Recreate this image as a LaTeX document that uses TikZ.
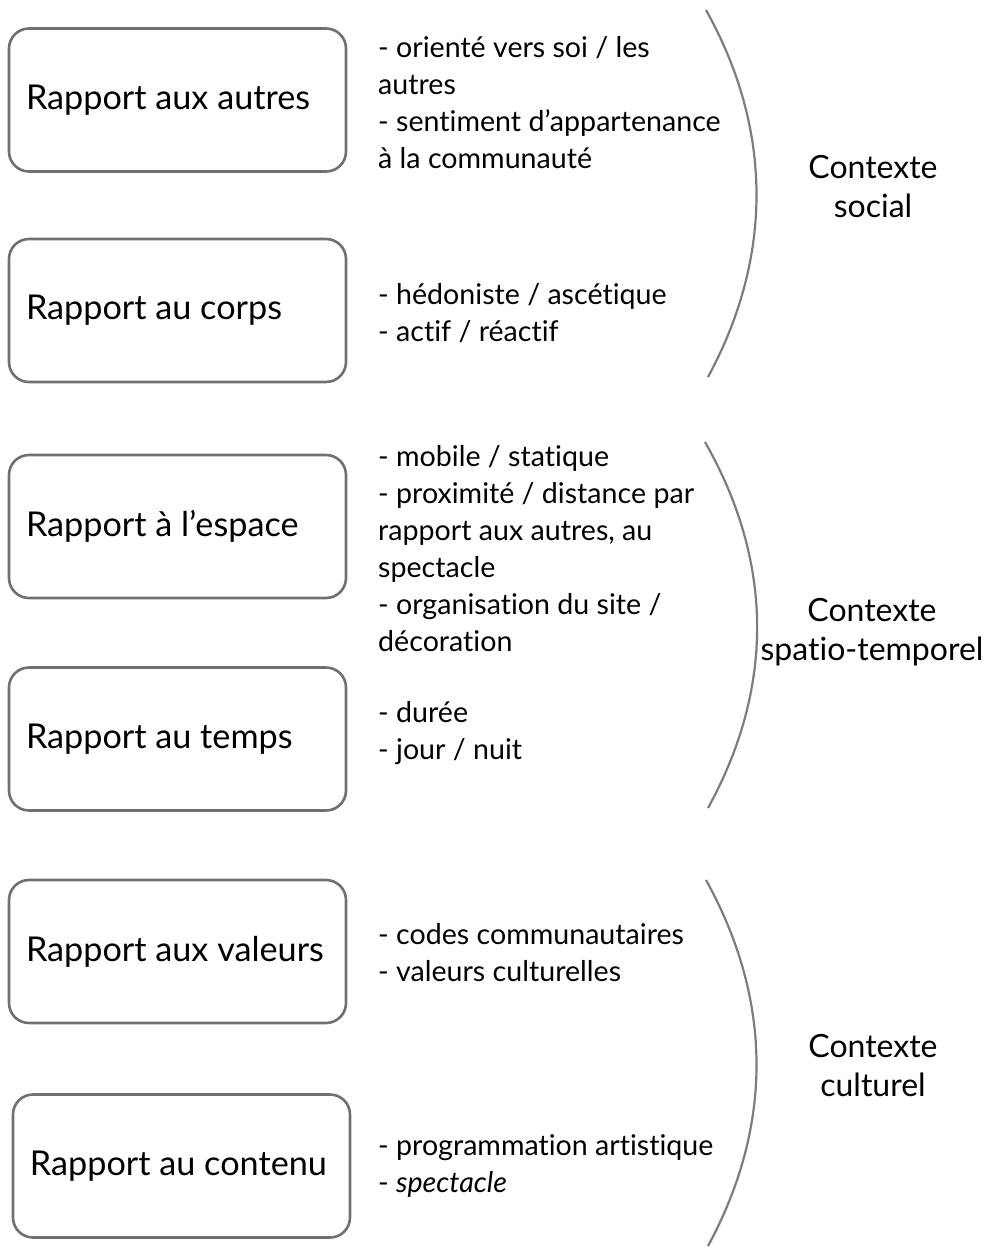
\documentclass[tikz,border=0pt]{standalone}
\usepackage{fontspec}
\setmainfont{Lato}[Ligatures=NoCommon]
\usepackage{tikz}
\usetikzlibrary{positioning}
\definecolor{boxgray}{RGB}{112,112,112}
\definecolor{arcgray}{RGB}{125,125,125}

\begin{document}
\begin{tikzpicture}[x=1pt, y=-1pt,
    rapport/.style={draw=boxgray, line width=2.6pt, rounded corners=20pt,
      inner xsep=17pt, text width=303pt, align=flush left,
      minimum width=337pt, minimum height=143pt, font=\fontsize{34.2}{40}\selectfont},
    details/.style={anchor=west, align=left, inner sep=0pt,
      font=\fontsize{28.6}{37}\selectfont},
    contexte/.style={align=center, inner sep=0pt, font=\fontsize{32}{39}\selectfont},
    accolade/.style={draw=arcgray, line width=2.2pt}]
    \useasboundingbox (0,0) rectangle (986,1259);

    % boites de gauche
    \node(r1) [rapport] at (177.5, 100) {Rapport aux autres};
    \node(r2) [rapport] at (177.5, 310.5) {Rapport au corps};
    \node(r3) [rapport] at (177.5, 526.5) {Rapport à l’espace};
    \node(r4) [rapport] at (177.5, 739) {Rapport au temps};
    \node(r5) [rapport] at (177.5, 951.5) {Rapport aux valeurs};
    \node(r6) [rapport] at (181.5, 1166) {Rapport au contenu};

    % details
    \node(d1) [details] at (378, 102.5) {- orienté vers soi / les\\autres\\- sentiment d’appartenance\\à la communauté};
    \node(d2) [details] at (378, 313) {- hédoniste / ascétique\\- actif / réactif};
    \node(d3) [details] at (378, 548.5) {- mobile / statique\\- proximité / distance par\\rapport aux autres, au\\spectacle\\- organisation du site /\\décoration};
    \node(d4) [details] at (378, 733) {- durée\\- jour / nuit};
    \node(d5) [details] at (378, 952.5) {- codes communautaires\\- valeurs culturelles};
    \node(d6) [details] at (378, 1166.5) {- programmation artistique\\- \textit{spectacle}};

    % contextes
    \node(c1) [contexte] at (873, 187) {Contexte\\social};
    \node(c2) [contexte] at (872, 632) {Contexte\\spatio-temporel};
    \node(c3) [contexte] at (873, 1066) {Contexte\\culturel};

    % accolades
    \coordinate (a1) at (706, 10);
    \coordinate (b1) at (708, 377);
    \coordinate (a2) at (705, 442);
    \coordinate (b2) at (708, 808);
    \coordinate (a3) at (706, 880);
    \coordinate (b3) at (708, 1246);
    \draw[accolade] (a1) .. controls (773, 130) and (773, 257) .. (b1);
    \draw[accolade] (a2) .. controls (774, 563) and (774, 688) .. (b2);
    \draw[accolade] (a3) .. controls (773, 1001) and (773, 1126) .. (b3);
  \end{tikzpicture}
\end{document}
